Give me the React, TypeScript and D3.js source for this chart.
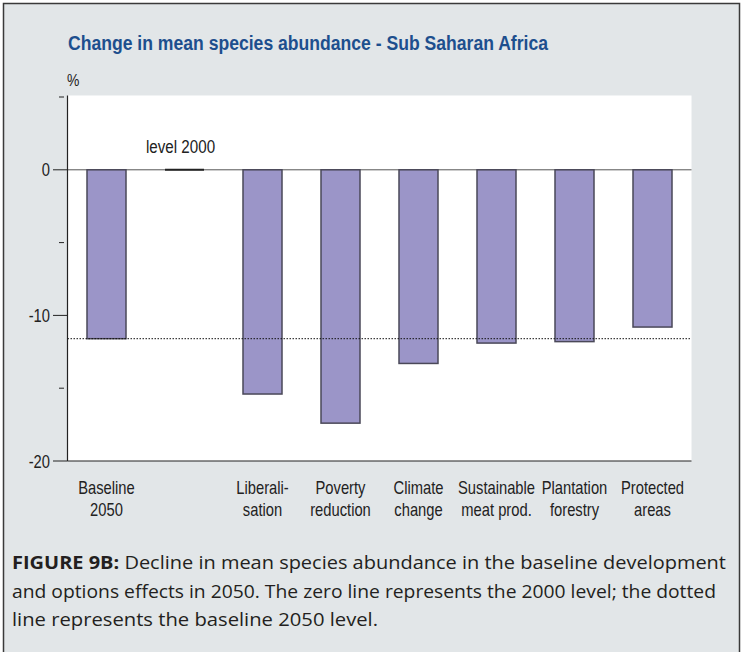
import React from "react";
import * as d3 from "d3";

const categories = ["Baseline 2050", "level 2000", "Liberalisation", "Poverty reduction", "Climate change", "Sustainable meat prod.", "Plantation forestry", "Protected areas"];
const labelLines = [["Baseline", "2050"], ["", ""], ["Liberali-", "sation"], ["Poverty", "reduction"], ["Climate", "change"], ["Sustainable", "meat prod."], ["Plantation", "forestry"], ["Protected", "areas"]];
const values = [-11.6, 0, -15.4, -17.4, -13.3, -11.9, -11.8, -10.8];
const baselineLevel = -11.6;
const majorTicks = [0, -10, -20];
const minorTicks = [5, -5, -15];
const captionLines = [
  { bold: "FIGURE 9B:", rest: " Decline in mean species abundance in the baseline development", len: 714 },
  { bold: "", rest: "and options effects in 2050. The zero line represents the 2000 level; the dotted", len: 704 },
  { bold: "", rest: "line represents the baseline 2050 level.", len: 366 },
];

const W = 743, H = 652;
const left = 67.5, right = 691.5, top = 95.5, bottom = 461;
const sans = "'Liberation Sans', Arial, sans-serif";
const SX = 0.82;

function NText({ x, y, anchor = "start", size = 18, children, fill = "#222", weight = "normal" }: any) {
  return (
    <text transform={`translate(${x},${y}) scale(${SX},1)`} textAnchor={anchor} fill={fill} fontFamily={sans} fontSize={size} fontWeight={weight}>
      {children}
    </text>
  );
}

export default function App() {
  const x = d3.scaleBand<string>().domain(categories).range([left, right]).paddingInner(0.5).paddingOuter(0.25);
  const y = d3.scaleLinear().domain([-20, 5]).range([bottom, 97]);
  const bw = x.bandwidth();
  return (
    <svg width={W} height={H} style={{ position: "absolute", left: 0, top: 0 }}>
      <rect x={0} y={0} width={W} height={H} fill="#ffffff" />
      <rect x={3.5} y={3.5} width={736} height={H + 10} fill="#e2e6e8" stroke="#3a3a3a" strokeWidth={1.5} />
      <text x={68} y={50} fill="#1d4f8e" fontFamily={sans} fontWeight="bold" fontSize={20} textLength={480} lengthAdjust="spacingAndGlyphs">
        Change in mean species abundance - Sub Saharan Africa
      </text>
      <NText x={67} y={86} size={17}>%</NText>
      <rect x={left} y={top} width={right - left} height={bottom - top} fill="#ffffff" />
      <line x1={left} x2={right} y1={y(0)} y2={y(0)} stroke="#555" strokeWidth={1} />
      {values.map((v, i) => {
        const x0 = x(categories[i])!;
        if (v === 0) {
          return <line key={i} x1={x0} x2={x0 + bw} y1={y(0)} y2={y(0)} stroke="#222" strokeWidth={2} />;
        }
        return (
          <rect key={i} x={x0} y={y(0)} width={bw} height={y(v) - y(0)} fill="#9b95c8" stroke="#4a4858" strokeWidth={1.5} />
        );
      })}
      <line x1={left} x2={right} y1={y(baselineLevel)} y2={y(baselineLevel)} stroke="#111" strokeWidth={1} strokeDasharray="1.5,1.5" />
      <NText x={x(categories[1])! + bw / 2 - 4} y={153} anchor="middle" size={18.5}>level 2000</NText>
      <line x1={left} x2={left} y1={top} y2={bottom} stroke="#222" strokeWidth={1.2} />
      <line x1={left} x2={right} y1={bottom} y2={bottom} stroke="#222" strokeWidth={1.2} />
      {majorTicks.map((t) => (
        <g key={t}>
          <line x1={53} x2={left} y1={y(t)} y2={y(t)} stroke="#222" strokeWidth={1} />
          <NText x={50} y={y(t) + 6.5} anchor="end" size={18}>{t}</NText>
        </g>
      ))}
      {minorTicks.map((t) => (
        <line key={t} x1={59} x2={64} y1={y(t)} y2={y(t)} stroke="#222" strokeWidth={1} />
      ))}
      {labelLines.map((ls, i) => (
        <g key={i}>
          <NText x={x(categories[i])! + bw / 2} y={493.5} anchor="middle" size={18}>{ls[0]}</NText>
          <NText x={x(categories[i])! + bw / 2} y={515.5} anchor="middle" size={18}>{ls[1]}</NText>
        </g>
      ))}
      {captionLines.map((l, i) => (
        <text key={i} x={12} y={569 + i * 28.5} fill="#231f20" fontFamily="'Open Sans', 'Noto Sans', sans-serif" fontSize={18} textLength={l.len} lengthAdjust="spacingAndGlyphs">
          {l.bold && <tspan fontWeight="bold">{l.bold}</tspan>}
          <tspan>{l.rest}</tspan>
        </text>
      ))}
    </svg>
  );
}
